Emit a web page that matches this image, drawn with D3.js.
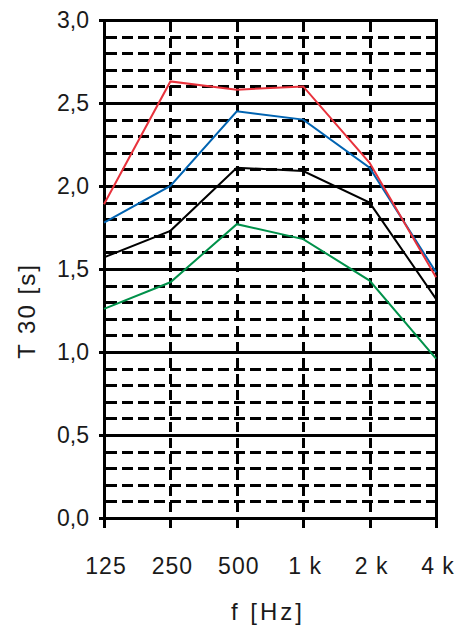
<html>
<head>
<style>
  body { margin: 0; background: #fff; }
  text { font-family: "Liberation Sans", Arial, sans-serif; fill: #1a1a1a; }
</style>
</head>
<body>
<svg class="svg"></svg>
<script src="https://d3js.org/d3.v7.min.js"></script>
<script>
    var width = 456, height = 627;
    var margin = {top: 20, right: 20, bottom: 109, left: 104};

    // frequency bands and reverberation times (s)
    var bands = ["125", "250", "500", "1 k", "2 k", "4 k"];
    var redT = [1.89, 2.63, 2.58, 2.60, 2.14, 1.45];
    var blueT = [1.78, 2.00, 2.45, 2.40, 2.11, 1.48];
    var blackT = [1.57, 1.73, 2.11, 2.09, 1.90, 1.32];
    var greenT = [1.26, 1.42, 1.77, 1.68, 1.43, 0.96];
    var yTicks = [0, 0.5, 1.0, 1.5, 2.0, 2.5, 3.0];
    var yMinor = d3.range(1, 30).map(d => d / 10).filter(d => Math.round(d * 10) % 5 != 0);

    var series = [
        {values: blackT, color: "#000000"},
        {values: greenT, color: "#00914a"},
        {values: blueT, color: "#0063b1"},
        {values: redT, color: "#e8323c"}
    ];

    var svg = d3.select("svg")
        .attr("width", width)
        .attr("height", height);

    var x = d3.scalePoint()
        .domain(bands)
        .range([margin.left, width - margin.right]);

    var y = d3.scaleLinear()
        .domain([0, 3])
        .range([height - margin.bottom, margin.top]);

    var grid = svg.append("g").attr("id", "grid");

    // dashed minor horizontals
    grid.selectAll("line.hminor")
        .data(yMinor)
        .enter().append("line")
        .attr("class", "hminor")
        .attr("x1", x.range()[0] + 2).attr("x2", x.range()[1])
        .attr("y1", d => Math.round(y(d)) + 0.5).attr("y2", d => Math.round(y(d)) + 0.5)
        .attr("stroke", "#000")
        .attr("stroke-width", 3)
        .attr("stroke-dasharray", "11,5")
        .attr("shape-rendering", "crispEdges");

    // dashed verticals at inner bands
    grid.selectAll("line.vminor")
        .data(bands.slice(1, -1))
        .enter().append("line")
        .attr("class", "vminor")
        .attr("x1", d => Math.round(x(d)) + 0.5).attr("x2", d => Math.round(x(d)) + 0.5)
        .attr("y1", y(3) + 2).attr("y2", y(0))
        .attr("stroke", "#000")
        .attr("stroke-width", 3)
        .attr("stroke-dasharray", "10,6")
        .attr("shape-rendering", "crispEdges");

    // solid horizontals every 0.5
    grid.selectAll("line.hmajor")
        .data(yTicks)
        .enter().append("line")
        .attr("class", "hmajor")
        .attr("x1", x.range()[0] - 5).attr("x2", x.range()[1])
        .attr("y1", d => Math.round(y(d)) + 0.5).attr("y2", d => Math.round(y(d)) + 0.5)
        .attr("stroke", "#000")
        .attr("stroke-width", 3)
        .attr("shape-rendering", "crispEdges");

    // frame sides
    grid.selectAll("line.side")
        .data([bands[0], bands[bands.length - 1]])
        .enter().append("line")
        .attr("class", "side")
        .attr("x1", d => x(d)).attr("x2", d => x(d))
        .attr("y1", y(3) - 1.5).attr("y2", y(0) + 1.5)
        .attr("stroke", "#000")
        .attr("stroke-width", 3)
        .attr("shape-rendering", "crispEdges");

    // bottom ticks
    grid.selectAll("line.xtick")
        .data(bands)
        .enter().append("line")
        .attr("class", "xtick")
        .attr("x1", d => Math.round(x(d)) + 0.5).attr("x2", d => Math.round(x(d)) + 0.5)
        .attr("y1", y(0)).attr("y2", y(0) + 10)
        .attr("stroke", "#000")
        .attr("stroke-width", 3)
        .attr("shape-rendering", "crispEdges");

    // data lines
    var line = d3.line()
        .x((d, i) => x(bands[i]))
        .y(d => y(d));

    svg.append("g").attr("id", "lines")
        .selectAll("path")
        .data(series)
        .enter().append("path")
        .attr("d", d => line(d.values))
        .attr("fill", "none")
        .attr("stroke", d => d.color)
        .attr("stroke-width", 2);

    // y tick labels
    svg.append("g").selectAll("text")
        .data(yTicks)
        .enter().append("text")
        .attr("x", 89)
        .attr("y", d => y(d))
        .attr("dy", "0.35em")
        .attr("text-anchor", "end")
        .style("font-size", "23px")
        .text(d => d.toFixed(1).replace(".", ","));

    // x tick labels
    svg.append("g").selectAll("text")
        .data(bands)
        .enter().append("text")
        .attr("x", d => x(d) + 2)
        .attr("y", 574)
        .attr("text-anchor", "middle")
        .style("font-size", "23px")
        .style("letter-spacing", "1px")
        .text(d => d);

    // axis titles
    svg.append("text")
        .attr("x", 268)
        .attr("y", 620)
        .attr("text-anchor", "middle")
        .style("font-size", "24px")
        .style("letter-spacing", "3px")
        .text("f [Hz]");

    svg.append("text")
        .attr("transform", "translate(35,311) rotate(-90)")
        .attr("text-anchor", "middle")
        .style("font-size", "24px")
        .style("letter-spacing", "2px")
        .text("T 30 [s]");
</script>
</body>
</html>
